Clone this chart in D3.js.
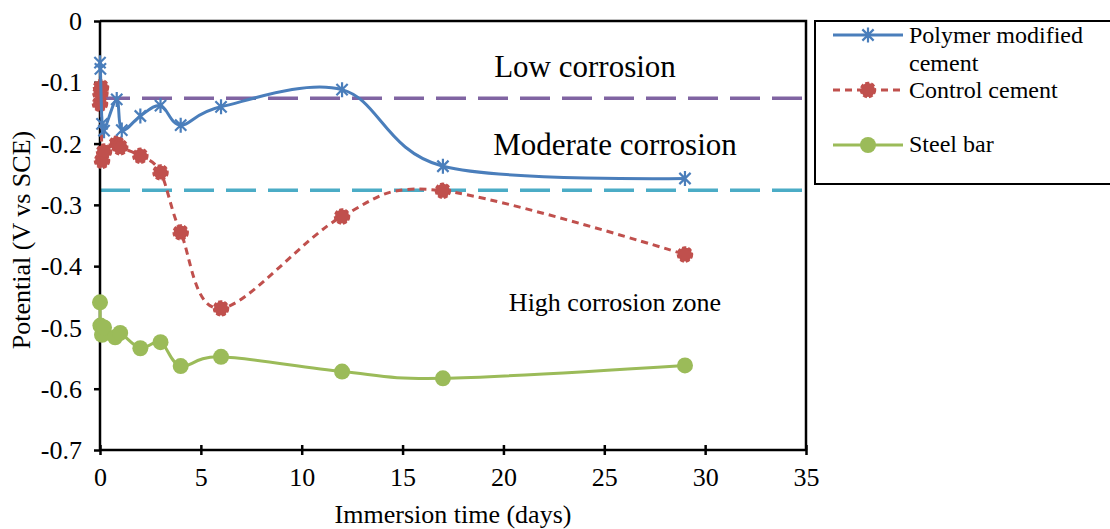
<!DOCTYPE html>
<html><head><meta charset="utf-8">
<script src="https://cdn.jsdelivr.net/npm/d3@7"></script>
<style>body{margin:0;background:#fff}svg{display:block}text{font-family:"Liberation Serif","Times New Roman",serif;fill:#000}</style>
</head><body><svg id="c" width="1110" height="529"></svg>
<script>
// ---- data ----
const xTicks = [0, 5, 10, 15, 20, 25, 30, 35];
const yTicks = [0, -0.1, -0.2, -0.3, -0.4, -0.5, -0.6, -0.7];
const yTickLabels = ["0", "-0.1", "-0.2", "-0.3", "-0.4", "-0.5", "-0.6", "-0.7"];
const polymerDays = [0, 0.02, 0.1, 0.2, 0.83, 1.08, 2, 3, 4, 6, 12, 17, 29];
const polymerValues = [-0.068, -0.078, -0.168, -0.179, -0.128, -0.178, -0.155, -0.138, -0.170, -0.140, -0.112, -0.237, -0.257];
const controlDays = [0, 0.02, 0.05, 0.1, 0.2, 0.83, 1, 2, 3, 4, 6, 12, 17, 29];
const controlValues = [-0.135, -0.118, -0.108, -0.228, -0.213, -0.200, -0.206, -0.220, -0.247, -0.345, -0.469, -0.319, -0.277, -0.381];
const steelDays = [0, 0.02, 0.1, 0.2, 0.75, 1, 2, 3, 4, 6, 12, 17, 29];
const steelValues = [-0.459, -0.497, -0.512, -0.500, -0.516, -0.509, -0.534, -0.524, -0.563, -0.548, -0.572, -0.583, -0.562];
const thresholds = [-0.126, -0.276];
const seriesNames = ["Polymer modified", "Control cement", "Steel bar"];
const zoneLabels = ["Low corrosion", "Moderate corrosion", "High corrosion zone"];

// ---- layout ----
const svg = d3.select("#c");
const x = d3.scaleLinear().domain([0, 35]).range([100, 806]);
const y = d3.scaleLinear().domain([-0.7, 0]).range([450, 21]);
const colors = {blue:"#4A7EBB", red:"#C0504D", green:"#9BBB59", purple:"#8064A2", cyan:"#4BACC6"};
const serif = '"Liberation Serif","Times New Roman",serif';

// plot border (top & right)
svg.append("path").attr("d", `M${x(0)},${y(0)}H${x(35)}V${y(-0.7)}`)
  .attr("fill","none").attr("stroke","#000").attr("stroke-width",2.5);

// threshold lines
const thrColors = [colors.purple, colors.cyan];
thresholds.forEach((t,i)=>{
  svg.append("line").attr("x1",x(0)).attr("x2",x(35)).attr("y1",y(t)).attr("y2",y(t))
    .attr("stroke",thrColors[i]).attr("stroke-width",3.5).attr("stroke-dasharray","30,12");
});

// axes
const xAxis = d3.axisBottom(x).tickValues(xTicks).tickSize(5).tickFormat(d3.format("d"));
const gx = svg.append("g").attr("transform",`translate(0,${y(-0.7)})`).call(xAxis).attr("font-family",serif);
gx.select(".domain").attr("stroke","#000").attr("stroke-width",2.5).attr("d",`M${x(0)},0H${x(35)}`);
gx.selectAll(".tick line").attr("stroke","#000").attr("stroke-width",2.5).attr("y1",-5).attr("y2",5);
gx.selectAll(".tick text").attr("font-size",26).attr("dy",0).attr("y",36);

const yAxis = d3.axisLeft(y).tickValues(yTicks).tickSize(6).tickFormat((d,i)=>yTickLabels[i]);
const gy = svg.append("g").attr("transform",`translate(${x(0)},0)`).call(yAxis).attr("font-family",serif);
gy.select(".domain").attr("stroke","#000").attr("stroke-width",2.5).attr("d",`M0,${y(0)}V${y(-0.7)}`);
gy.selectAll(".tick line").attr("stroke","#000").attr("stroke-width",2.5);
gy.selectAll(".tick text").attr("font-size",26).attr("x",-18).attr("dy","0.33em");

// axis titles
svg.append("text").attr("x",453).attr("y",523).attr("text-anchor","middle").attr("font-size",26).text("Immersion time (days)");
svg.append("text").attr("transform","translate(30,240) rotate(-90)").attr("text-anchor","middle").attr("font-size",26).text("Potential (V vs SCE)");

// zone labels
svg.append("text").attr("x",585).attr("y",77).attr("text-anchor","middle").attr("font-size",31).text(zoneLabels[0]);
svg.append("text").attr("x",615).attr("y",155).attr("text-anchor","middle").attr("font-size",31).text(zoneLabels[1]);
svg.append("text").attr("x",615).attr("y",311).attr("text-anchor","middle").attr("font-size",26).text(zoneLabels[2]);

// series
const line = d3.line().x(d=>x(d[0])).y(d=>y(d[1])).curve(d3.curveCatmullRom.alpha(0));
const pData = polymerDays.map((d,i)=>[d, polymerValues[i]]);
const cData = controlDays.map((d,i)=>[d, controlValues[i]]);
const sData = steelDays.map((d,i)=>[d, steelValues[i]]);

function starPath(s){const a=s*0.75;return `M0,${-s}V${s}M${-a},${-a}L${a},${a}M${-a},${a}L${a},${-a}`;}

// steel
svg.append("path").datum(sData).attr("d",line).attr("fill","none").attr("stroke",colors.green).attr("stroke-width",3);
svg.selectAll(".sm").data(sData).enter().append("circle").attr("cx",d=>x(d[0])).attr("cy",d=>y(d[1])).attr("r",8).attr("fill",colors.green);
// control
svg.append("path").datum(cData).attr("d",line).attr("fill","none").attr("stroke",colors.red).attr("stroke-width",3).attr("stroke-dasharray","7,5");
svg.selectAll(".cm").data(cData).enter().append("circle").attr("cx",d=>x(d[0])).attr("cy",d=>y(d[1])).attr("r",7).attr("fill",colors.red)
  .attr("stroke",colors.red).attr("stroke-width",2.5).attr("stroke-dasharray","4,2");
// polymer
svg.append("path").datum(pData).attr("d",line).attr("fill","none").attr("stroke",colors.blue).attr("stroke-width",3);
svg.selectAll(".pm").data(pData).enter().append("path").attr("transform",d=>`translate(${x(d[0])},${y(d[1])})`)
  .attr("d",starPath(7.5)).attr("fill","none").attr("stroke",colors.blue).attr("stroke-width",2.2);

// legend
svg.append("rect").attr("x",815).attr("y",21).attr("width",300).attr("height",163).attr("fill","#fff").attr("stroke","#000").attr("stroke-width",2);
const lg = [
  {y:35, color:colors.blue, dash:null, marker:"star", labels:[seriesNames[0], "cement"], ty:[43,71]},
  {y:90, color:colors.red, dash:"7,5", marker:"dcircle", labels:[seriesNames[1]], ty:[98]},
  {y:145, color:colors.green, dash:null, marker:"circle", labels:[seriesNames[2]], ty:[152]}
];
lg.forEach(e=>{
  svg.append("line").attr("x1",833).attr("x2",903).attr("y1",e.y).attr("y2",e.y).attr("stroke",e.color).attr("stroke-width",3).attr("stroke-dasharray",e.dash);
  if(e.marker==="star") svg.append("path").attr("transform",`translate(868,${e.y})`).attr("d",starPath(7.5)).attr("fill","none").attr("stroke",e.color).attr("stroke-width",2.2);
  else svg.append("circle").attr("cx",868).attr("cy",e.y).attr("r",e.marker==="circle"?8:7).attr("fill",e.color)
    .attr("stroke",e.color).attr("stroke-width",e.marker==="circle"?0:2.5).attr("stroke-dasharray",e.marker==="circle"?null:"4,2");
  e.labels.forEach((t,i)=>svg.append("text").attr("x",909).attr("y",e.ty[i]).attr("font-size",24).text(t));
});
</script></body></html>
